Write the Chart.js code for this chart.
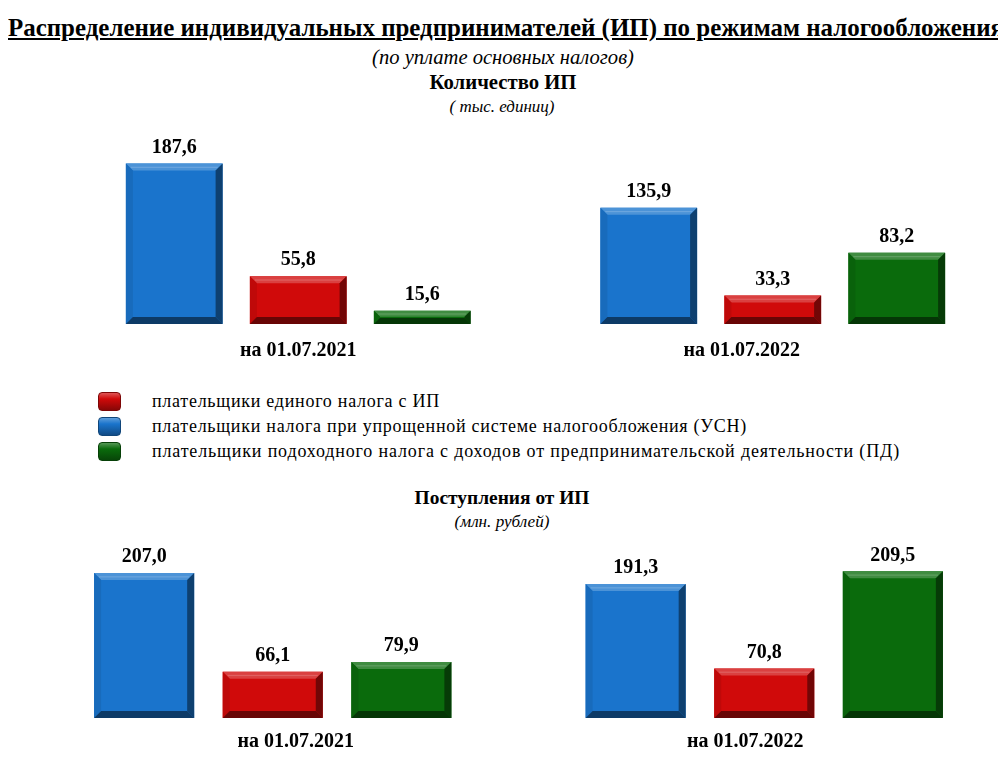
<!DOCTYPE html>
<html lang="ru">
<head>
<meta charset="utf-8">
<script src="https://cdn.jsdelivr.net/npm/chart.js@4.4.1/dist/chart.umd.min.js"></script>
<style>
  html, body { margin: 0; padding: 0; background: #ffffff; width: 998px; height: 759px; overflow: hidden; position: relative; }
  .t { position: absolute; font-family: "Liberation Serif", serif; color: #000; white-space: nowrap; line-height: 1.15; }
  #title { left: 8px; top: 13px; font-size: 26px; font-weight: bold; text-decoration: underline; transform-origin: 0 0; }
  .sub { font-style: italic; font-size: 16px; }
  .head { font-weight: bold; font-size: 17px; }
  canvas { position: absolute; }
  #legend { position: absolute; left: 98px; top: 390px; font-family: "Liberation Serif", serif; font-size: 18px; }
  .li { position: relative; height: 25px; }
  .mk { position: absolute; left: 0; top: 2px; width: 23px; height: 19px; border-radius: 4px; box-sizing: border-box; }
  .lt { position: absolute; left: 54px; top: 0; line-height: 22px; white-space: nowrap; }
</style>
</head>
<body>
<div id="title" class="t">Распределение индивидуальных предпринимателей (ИП) по режимам налогообложения</div>
<div class="t sub fit" data-cx="503" data-cy="58" data-w="262" style="font-size:17px;">(по уплате основных налогов)</div>
<div class="t head fit" data-cx="503" data-cy="83" data-w="147">Количество ИП</div>
<div class="t sub fit" data-cx="502" data-cy="107" data-w="105" style="font-size:15px;">( тыс. единиц)</div>
<div class="t head fit" data-cx="502" data-cy="498" data-w="175">Поступления от ИП</div>
<div class="t sub fit" data-cx="502" data-cy="522" data-w="95" style="font-size:15px;">(млн. рублей)</div>

<div id="legend"></div>

<canvas id="c1" width="949" height="251" style="left:61px; top:113px;"></canvas>
<canvas id="c2" width="983" height="234" style="left:27px; top:524px;"></canvas>

<script>
// ---------- DATA ----------
const categories = ['на 01.07.2021', 'на 01.07.2022'];
const seriesNames = [
  'плательщики налога при упрощенной системе налогообложения (УСН)',
  'плательщики единого налога с ИП',
  'плательщики подоходного налога с доходов от предпринимательской деятельности (ПД)'
];
// Количество ИП, тыс. единиц
const countUSN    = [187.6, 135.9];
const countSingle = [55.8, 33.3];
const countPD     = [15.6, 83.2];
// Поступления от ИП, млн. рублей
const revenueUSN    = [207.0, 191.3];
const revenueSingle = [66.1, 70.8];
const revenuePD     = [79.9, 209.5];
// legend order as in the picture
const legendOrder = [1, 0, 2];
const legendWidths = [288, 595, 748];

// ---------- STYLE ----------
const colors = ['#1a74cc', '#d00a0a', '#0a6b0c'];
const FONT = '"Liberation Serif", serif';

function shade(hex, amt) {
  const n = parseInt(hex.slice(1), 16);
  let r = (n >> 16) & 255, g = (n >> 8) & 255, b = n & 255;
  const f = c => amt >= 0 ? Math.round(c + (255 - c) * amt) : Math.round(c * (1 + amt));
  return 'rgb(' + f(r) + ',' + f(g) + ',' + f(b) + ')';
}

const bevelPlugin = {
  id: 'bevel',
  afterDatasetsDraw(chart, args, opts) {
    const ctx = chart.ctx;
    chart.data.datasets.forEach((ds, di) => {
      const meta = chart.getDatasetMeta(di);
      const base = ds.backgroundColor;
      meta.data.forEach((bar, i) => {
        const w = bar.width;
        const x0 = bar.x - w / 2, x1 = bar.x + w / 2;
        const y0 = bar.y, y1 = bar.base;
        const h = y1 - y0;
        const b = Math.min(7, h / 2.2);
        ctx.save();
        ctx.fillStyle = shade(base, 0.22);
        ctx.beginPath(); ctx.moveTo(x0, y0); ctx.lineTo(x1, y0); ctx.lineTo(x1 - b, y0 + b); ctx.lineTo(x0 + b, y0 + b); ctx.closePath(); ctx.fill();
        ctx.fillStyle = shade(base, 0.35);
        ctx.fillRect(x0 + b * 0.7, y0 + b * 0.45, w - b * 1.4, 1.2);
        ctx.fillStyle = shade(base, -0.08);
        ctx.beginPath(); ctx.moveTo(x0, y0); ctx.lineTo(x0 + b, y0 + b); ctx.lineTo(x0 + b, y1 - b); ctx.lineTo(x0, y1); ctx.closePath(); ctx.fill();
        ctx.fillStyle = shade(base, -0.45);
        ctx.beginPath(); ctx.moveTo(x1, y0); ctx.lineTo(x1 - b, y0 + b); ctx.lineTo(x1 - b, y1 - b); ctx.lineTo(x1, y1); ctx.closePath(); ctx.fill();
        ctx.fillStyle = shade(base, -0.5);
        ctx.beginPath(); ctx.moveTo(x0, y1); ctx.lineTo(x0 + b, y1 - b); ctx.lineTo(x1 - b, y1 - b); ctx.lineTo(x1, y1); ctx.closePath(); ctx.fill();
        ctx.fillStyle = '#000';
        ctx.font = 'bold 20px ' + FONT;
        ctx.textAlign = 'center';
        ctx.textBaseline = 'middle';
        ctx.fillText(ds.data[i].toFixed(1).replace('.', ','), bar.x, y0 - 16);
        ctx.restore();
      });
    });
    const xs = chart.scales.x, ys = chart.scales.y;
    const baseY = ys.getPixelForValue(0);
    ctx.save();
    ctx.fillStyle = '#000';
    ctx.font = 'bold 20px ' + FONT;
    ctx.textAlign = 'center';
    ctx.textBaseline = 'middle';
    chart.data.labels.forEach((lab, i) => {
      ctx.fillText(lab, xs.getPixelForValue(i) + (opts.shift[i] || 0), baseY + opts.dy);
    });
    ctx.restore();
  }
};

function makeChart(id, a, b, c, ymax, catPct, barPct, shift, dy) {
  const vals = [a, b, c];
  return new Chart(document.getElementById(id), {
    type: 'bar',
    data: {
      labels: categories,
      datasets: vals.map((v, k) => ({
        label: seriesNames[k],
        data: v,
        backgroundColor: colors[k],
        borderWidth: 0,
        categoryPercentage: catPct,
        barPercentage: barPct
      }))
    },
    options: {
      responsive: false,
      animation: false,
      devicePixelRatio: 1,
      layout: { padding: { top: 40, bottom: 40, left: 0, right: 0 } },
      plugins: { legend: { display: false }, tooltip: { enabled: false }, bevel: { shift: shift, dy: dy } },
      scales: {
        x: { display: false },
        y: { display: false, min: 0, max: ymax }
      }
    },
    plugins: [bevelPlugin]
  });
}

// legend (HTML)
const legend = document.getElementById('legend');
const legendTexts = [];
legendOrder.forEach(k => {
  const li = document.createElement('div'); li.className = 'li';
  const mk = document.createElement('div'); mk.className = 'mk';
  mk.style.background = 'linear-gradient(180deg,' + shade(colors[k], 0.3) + ' 0%,' + colors[k] + ' 35%,' + shade(colors[k], -0.35) + ' 100%)';
  mk.style.border = '1px solid ' + shade(colors[k], -0.4);
  const lt = document.createElement('div'); lt.className = 'lt'; lt.textContent = seriesNames[k];
  li.appendChild(mk); li.appendChild(lt); legend.appendChild(li);
  legendTexts.push(lt);
});

function layoutText() {
  const title = document.getElementById('title');
  title.style.transform = 'none';
  const tw = title.getBoundingClientRect().width;
  title.style.transform = 'scaleX(' + (996 / tw) + ')';
  document.querySelectorAll('.fit').forEach(el => {
    const r = el.getBoundingClientRect();
    const fs = parseFloat(getComputedStyle(el).fontSize);
    el.style.fontSize = (fs * parseFloat(el.dataset.w) / r.width) + 'px';
    const r2 = el.getBoundingClientRect();
    el.style.left = (parseFloat(el.dataset.cx) - r2.width / 2) + 'px';
    el.style.top = (parseFloat(el.dataset.cy) - r2.height / 2) + 'px';
  });
  legendTexts.forEach((el, i) => {
    el.style.letterSpacing = '0px';
    const w = el.getBoundingClientRect().width;
    el.style.letterSpacing = ((legendWidths[i] - w) / el.textContent.length) + 'px';
  });
}

let started = false;
function start() {
  if (started) return; started = true;
  layoutText();
  makeChart('c1', countUSN, countSingle, countPD, 200, 0.784, 0.78, [0, -31], 27);
  makeChart('c2', revenueUSN, revenueSingle, revenuePD, 220, 0.785, 0.778, [23, -19], 24);
}
Promise.all([
  document.fonts.load('bold 20px "Liberation Serif"'),
  document.fonts.load('20px "Liberation Serif"'),
  document.fonts.load('italic 20px "Liberation Serif"')
]).then(() => document.fonts.ready).then(start, start);
setTimeout(start, 1500);
</script>
</body>
</html>
